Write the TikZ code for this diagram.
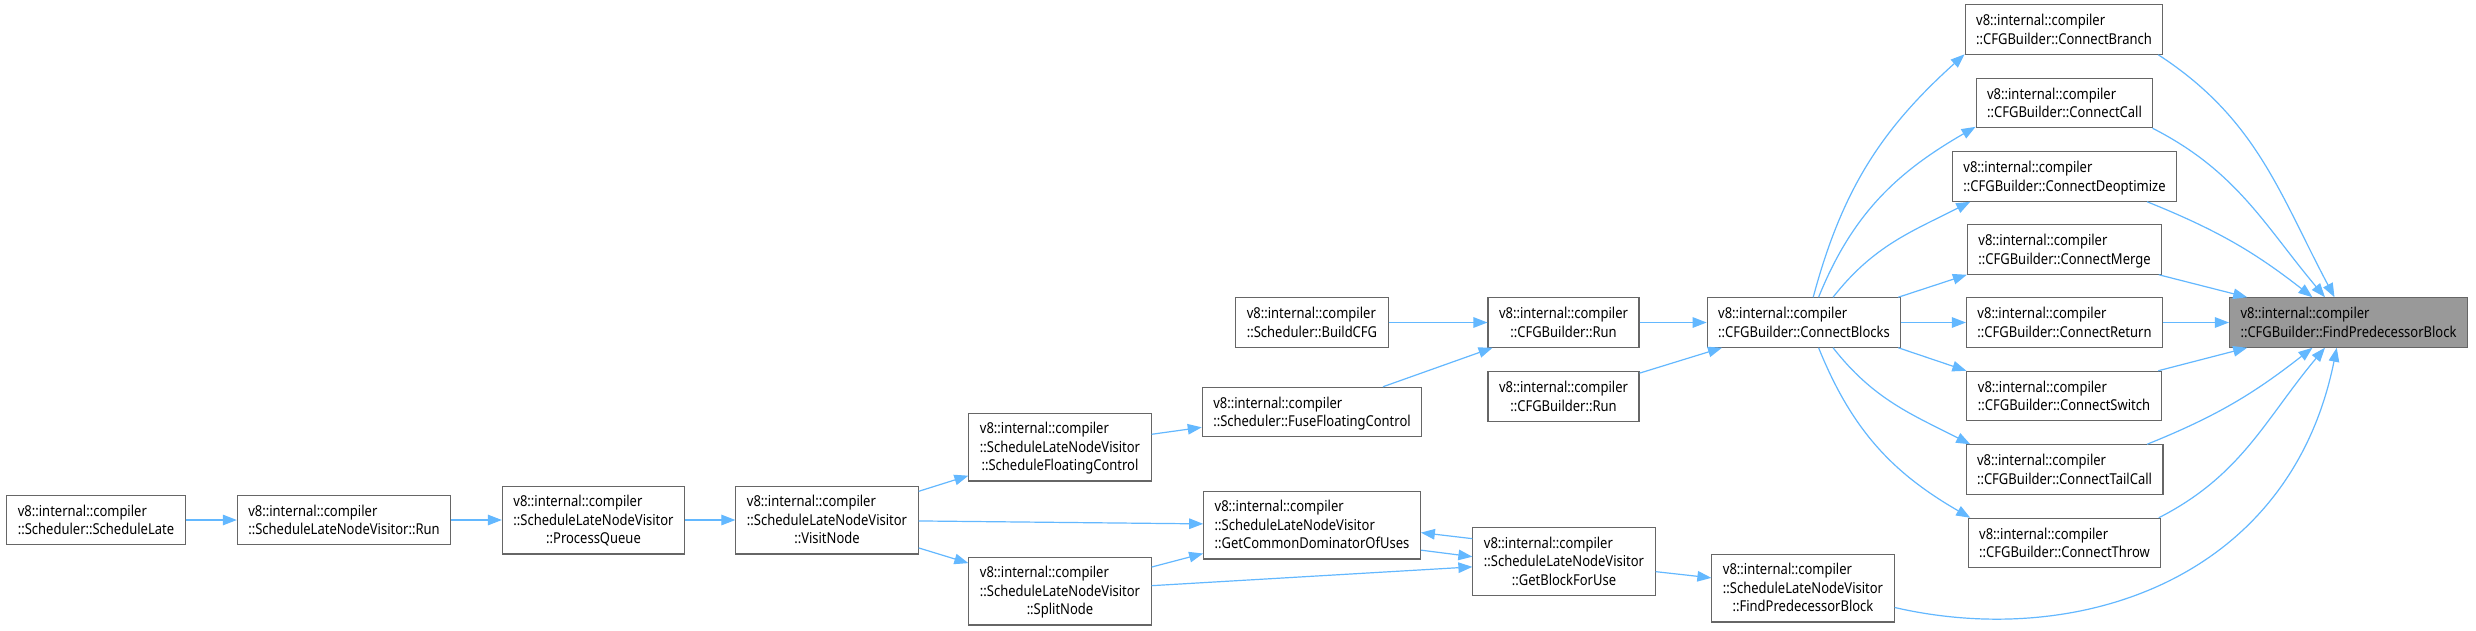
\documentclass[tikz,border=0pt]{standalone}
\usepackage{fontspec}
\setmainfont{Noto Sans}[FakeStretch=0.866]
\usetikzlibrary{positioning,arrows.meta}
\definecolor{edgeblue}{HTML}{63B8FF}
\definecolor{boxgray}{HTML}{666666}
\definecolor{focusgray}{HTML}{999999}
\newcommand{\cmpns}{v8::internal::compiler}
\newcommand{\lnst}{\rule[-3.8pt]{0pt}{18.5pt}}
\newcommand{\twoline}[2]{{\renewcommand{\arraystretch}{0}%
  \begin{tabular}{@{}l@{}}\lnst#1\\\multicolumn{1}{@{}c@{}}{\lnst#2}\end{tabular}}}
\newcommand{\threeline}[3]{{\renewcommand{\arraystretch}{0}%
  \begin{tabular}{@{}l@{}}\lnst#1\\\lnst#2\\\multicolumn{1}{@{}c@{}}{\lnst#3}\end{tabular}}}

\begin{document}
\begin{tikzpicture}[
    x=1pt, y=-1pt,
    fn/.style={draw=boxgray, fill=white, line width=1.1pt, inner xsep=11pt, inner ysep=6.2pt,
      font=\fontsize{15}{18.5}\selectfont},
    focus/.style={fn, fill=focusgray},
    call/.style={-{Triangle[length=14pt,width=10.5pt]}, edgeblue, line width=1.2pt},
  ]
    \path[use as bounding box, fill=white] (0,0) rectangle (2476,630);

    % ===== LEFT CHAIN: ScheduleLate -> VisitNode =====
    \node[fn] (sl) at (96,520) {\twoline{\cmpns}{::Scheduler::ScheduleLate}};
    \node[fn] (slrun) at (344,520) {\twoline{\cmpns}{::ScheduleLateNodeVisitor::Run}};
    \node[fn] (pq) at (593.5,520) {\threeline{\cmpns}{::ScheduleLateNodeVisitor}{::ProcessQueue}};
    \node[fn] (vn) at (827,520) {\threeline{\cmpns}{::ScheduleLateNodeVisitor}{::VisitNode}};

    \draw[call] (sl) -- (slrun);
    \draw[call] (slrun) -- (pq);
    \draw[call] (pq) -- (vn);

    % ===== MIDDLE: visitor helpers =====
    \node[fn] (sfc) at (1060,447) {\threeline{\cmpns}{::ScheduleLateNodeVisitor}{::ScheduleFloatingControl}};
    \node[fn] (split) at (1060,591) {\threeline{\cmpns}{::ScheduleLateNodeVisitor}{::SplitNode}};
    \node[fn] (bcfg) at (1312,322.5) {\twoline{\cmpns}{::Scheduler::BuildCFG}};
    \node[fn] (ffc) at (1312,412) {\twoline{\cmpns}{::Scheduler::FuseFloatingControl}};
    \node[fn] (gcd) at (1312,525) {\threeline{\cmpns}{::ScheduleLateNodeVisitor}{::GetCommonDominatorOfUses}};
    \node[fn] (run1) at (1563.5,322.5) {\twoline{\cmpns}{::CFGBuilder::Run}};
    \node[fn] (run2) at (1563.5,396.5) {\twoline{\cmpns}{::CFGBuilder::Run}};
    \node[fn] (gbfu) at (1564,561.5) {\threeline{\cmpns}{::ScheduleLateNodeVisitor}{::GetBlockForUse}};
    \node[fn] (fpb) at (1803,588) {\threeline{\cmpns}{::ScheduleLateNodeVisitor}{::FindPredecessorBlock}};
    \node[fn] (cb) at (1804,322.5) {\twoline{\cmpns}{::CFGBuilder::ConnectBlocks}};

    \draw[call] (vn) -- (sfc);
    \draw[call] (vn) -- (gcd);
    \draw[call] (vn) -- (split);
    \draw[call] (sfc) -- (ffc);
    \draw[call] (split) -- (gcd);
    \draw[call] (split) -- (gbfu);
    \draw[call] (ffc) -- (run1);
    \draw[call] (bcfg) -- (run1);
    \draw[call] (gcd.-13) -- (gbfu.177);
    \draw[call] (gbfu.166) -- (gcd.-4);
    \draw[call] (gbfu) -- (fpb);
    \draw[call] (run1) -- (cb);
    \draw[call] (run2) -- (cb);

    % ===== RIGHT COLUMN: CFGBuilder::Connect* =====
    \node[fn] (cbr) at (2064,29.5) {\twoline{\cmpns}{::CFGBuilder::ConnectBranch}};
    \node[fn] (ccall) at (2064.5,103) {\twoline{\cmpns}{::CFGBuilder::ConnectCall}};
    \node[fn] (cdeopt) at (2064.5,176.5) {\twoline{\cmpns}{::CFGBuilder::ConnectDeoptimize}};
    \node[fn] (cmerge) at (2064.5,249.5) {\twoline{\cmpns}{::CFGBuilder::ConnectMerge}};
    \node[fn] (cret) at (2064.5,322.5) {\twoline{\cmpns}{::CFGBuilder::ConnectReturn}};
    \node[fn] (cswitch) at (2064,396) {\twoline{\cmpns}{::CFGBuilder::ConnectSwitch}};
    \node[fn] (ctail) at (2064.5,469.5) {\twoline{\cmpns}{::CFGBuilder::ConnectTailCall}};
    \node[fn] (cthrow) at (2064.5,543) {\twoline{\cmpns}{::CFGBuilder::ConnectThrow}};

    % focus node
    \node[focus] (fcfg) at (2348.5,322.5) {\twoline{\cmpns}{::CFGBuilder::FindPredecessorBlock}};

    % ConnectBlocks fans out
    \draw[call] (cb.70) to[out=75, in=222] (cbr.194);
    \draw[call] (cb.60) to[out=68, in=210] (ccall.195);
    \draw[call] (cb.41) to[out=52, in=207] (cdeopt.195);
    \draw[call] (cb.15) -- (cmerge.south west);
    \draw[call] (cb) -- (cret);
    \draw[call] (cb.-15) -- (cswitch.north west);
    \draw[call] (cb.-41) to[out=-52, in=153] (ctail.165);
    \draw[call] (cb.-60) to[out=-68, in=150] (cthrow.165);

    % Connect* fan in to the focus node
    \draw[call] (cbr.-15) to[out=-33, in=118] (fcfg.119);
    \draw[call] (ccall.-16) to[out=-27, in=130] (fcfg.133);
    \draw[call] (cdeopt.-17) to[out=-22, in=142] (fcfg.145);
    \draw[call] (cmerge.-15) -- (fcfg.166);
    \draw[call] (cret) -- (fcfg);
    \draw[call] (cswitch.15) -- (fcfg.-166);
    \draw[call] (ctail.17) to[out=22, in=-142] (fcfg.-145);
    \draw[call] (cthrow.15) to[out=27, in=-130] (fcfg.-133);

    % long way round from the visitor
    \draw[call] (fpb.-12) .. controls +(182,42) and +(-47,233) .. (fcfg.-115);
  \end{tikzpicture}
\end{document}
